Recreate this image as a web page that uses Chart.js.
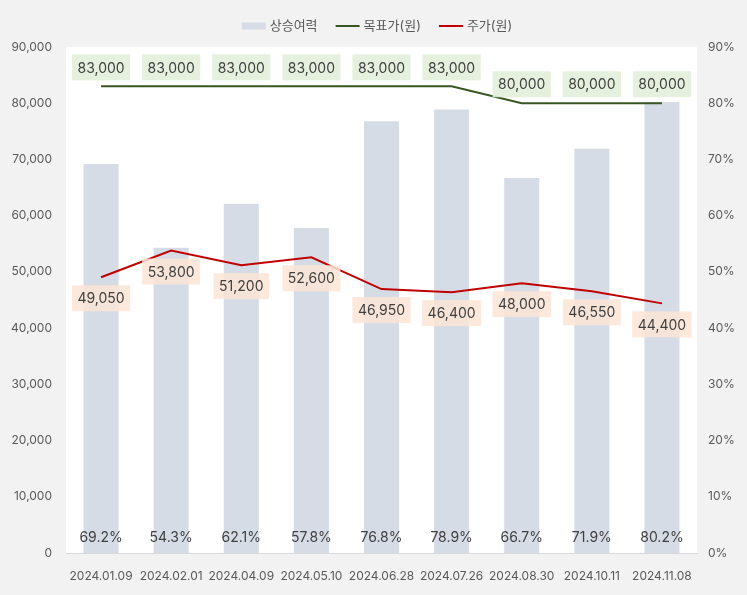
<!DOCTYPE html>
<html>
<head>
<meta charset="utf-8">
<script src="https://cdn.jsdelivr.net/npm/chart.js@4.4.1/dist/chart.umd.min.js"></script>
<style>
  html, body { margin: 0; padding: 0; background: #f2f2f2; }
  canvas { display: block; }
</style>
</head>
<body>
<canvas id="chart" width="747" height="595"></canvas>
<script>
const labels = ['2024.01.09', '2024.02.01', '2024.04.09', '2024.05.10', '2024.06.28', '2024.07.26', '2024.08.30', '2024.10.11', '2024.11.08'];
const upside = [69.2, 54.3, 62.1, 57.8, 76.8, 78.9, 66.7, 71.9, 80.2];
const targetPrice = [83000, 83000, 83000, 83000, 83000, 83000, 80000, 80000, 80000];
const stockPrice = [49050, 53800, 51200, 52600, 46950, 46400, 48000, 46550, 44400];
const priceMax = 90000;
const pctMax = 90;

const FONT = "Inter, 'Noto Sans CJK KR', sans-serif";
const TEXT = '#595959';
const BAR = '#d6dce5';
const GREEN = '#375623';
const RED = '#c00000';

// white plot area + custom legend
const backdrop = {
    id: 'backdrop',
    beforeDraw(chart) {
        const { ctx, chartArea } = chart;
        ctx.save();
        ctx.fillStyle = '#ffffff';
        ctx.fillRect(chartArea.left, chartArea.top, chartArea.right - chartArea.left, chartArea.bottom - chartArea.top);
        ctx.restore();
    },
    afterDraw(chart) {
        const { ctx } = chart;
        const items = [
            { text: '상승여력', type: 'box', color: BAR },
            { text: '목표가(원)', type: 'line', color: GREEN },
            { text: '주가(원)', type: 'line', color: RED }
        ];
        ctx.save();
        ctx.font = `13px ${FONT}`;
        const sw = 24, gap = 4, between = 18;
        let total = 0;
        items.forEach((it, i) => {
            it.w = ctx.measureText(it.text).width;
            total += sw + gap + it.w + (i ? between : 0);
        });
        let x = 377 - total / 2;
        const y = 26;
        ctx.textBaseline = 'middle';
        items.forEach(it => {
            if (it.type === 'box') {
                ctx.fillStyle = it.color;
                ctx.fillRect(x, y - 3.5, sw, 7);
            } else {
                ctx.strokeStyle = it.color;
                ctx.lineWidth = 2;
                ctx.beginPath();
                ctx.moveTo(x, y);
                ctx.lineTo(x + sw, y);
                ctx.stroke();
            }
            ctx.fillStyle = TEXT;
            ctx.textAlign = 'left';
            ctx.fillText(it.text, x + sw + gap, y);
            x += sw + gap + it.w + between;
        });
        ctx.restore();
    }
};

// data labels drawn from the elements the library placed
const valueLabels = {
    id: 'valueLabels',
    afterDatasetsDraw(chart) {
        const { ctx } = chart;
        ctx.save();
        ctx.font = `14px ${FONT}`;
        ctx.textAlign = 'center';
        ctx.textBaseline = 'middle';

        const boxed = (text, cx, cy, fill) => {
            const w = ctx.measureText(text).width + 11;
            const h = 26;
            ctx.fillStyle = fill;
            ctx.fillRect(cx - w / 2, cy - h / 2, w, h);
            ctx.fillStyle = '#404040';
            ctx.fillText(text, cx, cy + 1);
        };

        // bar percent at the bottom of each bar
        chart.getDatasetMeta(0).data.forEach((el, i) => {
            ctx.fillStyle = '#404040';
            ctx.fillText(upside[i].toFixed(1) + '%', el.x, el.base - 15);
        });
        // target price above the line
        chart.getDatasetMeta(1).data.forEach((el, i) => {
            boxed(targetPrice[i].toLocaleString('en-US'), el.x, el.y - 6 - 13, 'rgba(226, 239, 218, 0.9)');
        });
        // stock price below the line
        chart.getDatasetMeta(2).data.forEach((el, i) => {
            boxed(stockPrice[i].toLocaleString('en-US'), el.x, el.y + 8 + 13, 'rgba(251, 229, 214, 0.85)');
        });
        ctx.restore();
    }
};

new Chart(document.getElementById('chart'), {
    data: {
        labels: labels,
        datasets: [
            {
                type: 'bar',
                label: '상승여력',
                data: upside,
                yAxisID: 'y1',
                backgroundColor: BAR,
                barPercentage: 0.5,
                categoryPercentage: 1,
                order: 3
            },
            {
                type: 'line',
                label: '목표가(원)',
                data: targetPrice,
                yAxisID: 'y',
                borderColor: GREEN,
                borderWidth: 2,
                pointRadius: 0,
                tension: 0,
                order: 2
            },
            {
                type: 'line',
                label: '주가(원)',
                data: stockPrice,
                yAxisID: 'y',
                borderColor: RED,
                borderWidth: 2,
                pointRadius: 0,
                tension: 0,
                order: 1
            }
        ]
    },
    options: {
        responsive: false,
        animation: false,
        layout: { padding: { top: 47, left: 0, right: 0, bottom: 0 } },
        plugins: {
            legend: { display: false },
            tooltip: { enabled: false }
        },
        scales: {
            x: {
                grid: { display: false },
                border: { display: true, color: '#d9d9d9', width: 1 },
                ticks: {
                    color: TEXT,
                    font: { size: 12, family: FONT },
                    padding: 8,
                    maxRotation: 0,
                    autoSkip: false
                },
                afterFit(scale) { scale.height = 42; }
            },
            y: {
                position: 'left',
                min: 0,
                max: priceMax,
                grid: { display: false },
                border: { display: false },
                ticks: {
                    stepSize: 10000,
                    color: TEXT,
                    font: { size: 12, family: FONT },
                    padding: 6,
                    callback: v => v.toLocaleString('en-US')
                },
                afterFit(scale) { scale.width = 66; }
            },
            y1: {
                position: 'right',
                min: 0,
                max: pctMax,
                grid: { display: false },
                border: { display: false },
                ticks: {
                    stepSize: 10,
                    color: TEXT,
                    font: { size: 12, family: FONT },
                    padding: 3,
                    callback: v => v + '%'
                },
                afterFit(scale) { scale.width = 50; }
            }
        }
    },
    plugins: [backdrop, valueLabels]
});
</script>
</body>
</html>
